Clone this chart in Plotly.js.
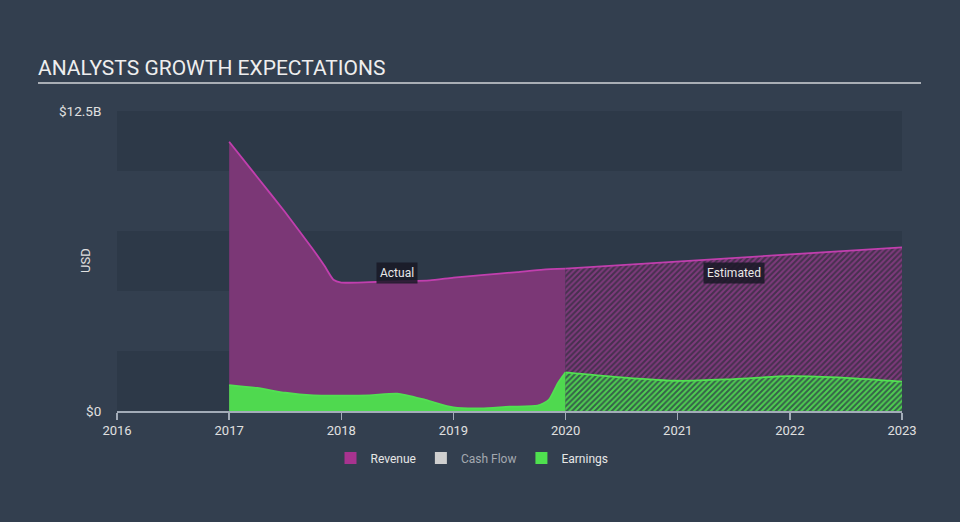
<!DOCTYPE html>
<html>
<head>
<meta charset="utf-8">
<script src="https://cdn.plot.ly/plotly-3.0.1.min.js"></script>
<style>
  html, body { margin: 0; padding: 0; background: #333f4f; }
  #chart { width: 960px; height: 522px; }
</style>
</head>
<body>
<div id="chart"></div>
<script>
// ---- data (values in USD billions) ----
const revenueActualYears = [2017, 2017.25, 2017.5, 2017.75, 2017.85, 2017.93, 2018, 2018.25, 2018.5, 2018.79, 2019, 2019.25, 2019.57, 2019.8, 2020];
const revenueActual      = [11.22, 9.75, 8.28, 6.72, 6.05, 5.47, 5.35, 5.37, 5.40, 5.44, 5.56, 5.66, 5.79, 5.89, 5.93];
const revenueEstYears    = [2020, 2021, 2022, 2023];
const revenueEst         = [5.93, 6.22, 6.52, 6.82];
const earningsActualYears = [2017, 2017.25, 2017.5, 2017.75, 2018, 2018.25, 2018.5, 2018.75, 2019, 2019.25, 2019.5, 2019.75, 2019.85, 2019.93, 2020];
const earningsActual      = [1.08, 0.96, 0.76, 0.65, 0.64, 0.65, 0.72, 0.46, 0.15, 0.11, 0.18, 0.22, 0.46, 1.15, 1.61];
const earningsEstYears    = [2020, 2020.5, 2021, 2021.5, 2022, 2022.5, 2023];
const earningsEst         = [1.61, 1.40, 1.26, 1.33, 1.45, 1.38, 1.22];
const xTickVals = [2016, 2017, 2018, 2019, 2020, 2021, 2022, 2023];
const xTickText = ['2016', '2017', '2018', '2019', '2020', '2021', '2022', '2023'];
const yTickVals = [0, 12.5];
const yTickText = ['$0', '$12.5B'];
const bandRanges = [[0, 2.5], [5, 7.5], [10, 12.5]];
const legendNames = ['Revenue', '<span style="color:#a4a9b0">Cash Flow</span>', 'Earnings'];
const legendColors = ['#a8338f', '#cfcfcf', '#4fe04f'];

const magentaLine = '#c13fae';
const greenLine = '#52e052';

const traces = [
  {
    x: revenueActualYears, y: revenueActual, type: 'scatter', mode: 'lines',
    line: { color: magentaLine, width: 1.8, shape: 'spline', smoothing: 0.5 },
    fill: 'tozeroy', fillcolor: '#7b3776', showlegend: false, hoverinfo: 'skip'
  },
  {
    x: revenueEstYears, y: revenueEst, type: 'scatter', mode: 'lines',
    line: { color: magentaLine, width: 1.8 },
    fill: 'tozeroy', fillcolor: '#4e3052',
    fillpattern: { shape: '/', fgcolor: '#7e3a7c', bgcolor: '#46304e', size: 4, solidity: 0.5 },
    showlegend: false, hoverinfo: 'skip'
  },
  {
    x: earningsActualYears, y: earningsActual, type: 'scatter', mode: 'lines',
    line: { color: greenLine, width: 1.8, shape: 'spline', smoothing: 0.6 },
    fill: 'tozeroy', fillcolor: '#4fd94f', showlegend: false, hoverinfo: 'skip'
  },
  {
    x: earningsEstYears, y: earningsEst, type: 'scatter', mode: 'lines',
    line: { color: greenLine, width: 1.8, shape: 'spline', smoothing: 0.8 },
    fill: 'tozeroy', fillcolor: '#3a7a46',
    fillpattern: { shape: '/', fgcolor: '#4fcf4f', bgcolor: '#36604a', size: 4, solidity: 0.5 },
    showlegend: false, hoverinfo: 'skip'
  }
];
legendNames.forEach((n, i) => {
  traces.push({ x: [null], y: [null], type: 'bar', name: n, marker: { color: legendColors[i] }, showlegend: true, hoverinfo: 'skip' });
});

const shapes = bandRanges.map(r => ({
  type: 'rect', xref: 'paper', yref: 'y', x0: 0, x1: 1, y0: r[0], y1: r[1],
  fillcolor: 'rgba(20,30,40,0.16)', line: { width: 0 }, layer: 'below'
}));
shapes.push({
  type: 'line', xref: 'paper', yref: 'paper',
  x0: (38 - 117) / 785, x1: (921 - 117) / 785, y0: (411 - 82) / 301, y1: (411 - 82) / 301,
  line: { color: '#a9aeb5', width: 2 }
});

const layout = {
  width: 960, height: 522,
  paper_bgcolor: '#333f4f', plot_bgcolor: 'rgba(0,0,0,0)',
  font: { family: 'Roboto, sans-serif', color: '#e0e0e0', size: 12 },
  margin: { l: 117, r: 58, t: 111, b: 111, pad: 0 },
  title: {
    text: 'ANALYSTS GROWTH EXPECTATIONS',
    font: { family: 'Roboto, sans-serif', size: 21, color: '#eeeeee' },
    x: 38 / 960, xanchor: 'left', xref: 'container',
    y: 1 - 68 / 522, yanchor: 'middle', yref: 'container'
  },
  xaxis: {
    range: [2016, 2023], tickvals: xTickVals, ticktext: xTickText,
    showgrid: false, zeroline: false, showline: true, linecolor: '#a3acb8', linewidth: 1.5,
    ticks: 'outside', ticklen: 7, tickcolor: '#a3acb8', tickwidth: 1.5,
    tickfont: { size: 13, color: '#e0e0e0' }, fixedrange: true
  },
  yaxis: {
    range: [0, 12.5], tickvals: yTickVals, ticktext: yTickText,
    showgrid: false, zeroline: false, showline: false,
    ticks: 'outside', ticklen: 12, tickcolor: 'rgba(0,0,0,0)',
    tickfont: { size: 13.5, color: '#e0e0e0' }, fixedrange: true
  },
  shapes: shapes,
  annotations: [
    {
      text: 'USD', xref: 'paper', yref: 'paper', x: (85 - 117) / 785, y: 0.5,
      xanchor: 'center', yanchor: 'middle',
      textangle: -90, showarrow: false, font: { size: 13, color: '#e0e0e0' }
    },
    {
      text: 'Actual', xref: 'x', yref: 'y', x: 2018.5, y: 5.77, showarrow: false,
      bgcolor: 'rgba(25,25,38,0.85)', borderpad: 3, font: { size: 12, color: '#e8e8e8' }
    },
    {
      text: 'Estimated', xref: 'x', yref: 'y', x: 2021.5, y: 5.77, showarrow: false,
      bgcolor: 'rgba(25,25,38,0.85)', borderpad: 3, font: { size: 12, color: '#e8e8e8' }
    }
  ],
  showlegend: true,
  legend: {
    orientation: 'h', xref: 'container', yref: 'container',
    x: 472 / 960, xanchor: 'center', y: 1 - 458 / 522, yanchor: 'middle',
    font: { size: 12, color: '#e6e6e6' },
    bgcolor: 'rgba(0,0,0,0)', itemwidth: 30, traceorder: 'normal'
  },
  barmode: 'overlay',
  hovermode: false
};

Plotly.newPlot('chart', traces, layout, { displayModeBar: false, staticPlot: true });
</script>
</body>
</html>
